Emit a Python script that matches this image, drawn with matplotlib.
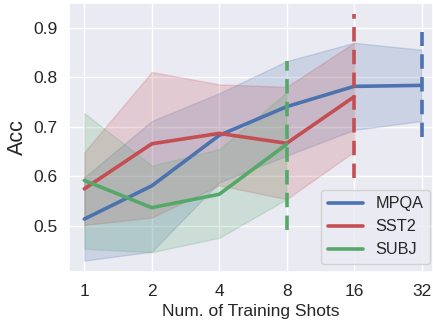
import numpy as np
import matplotlib
matplotlib.use("Agg")
import matplotlib.pyplot as plt
import seaborn as sns

shots = [1, 2, 4, 8, 16, 32]
tick_labels = ["1", "2", "4", "8", "16", "32"]

mpqa_mean = [0.514, 0.581, 0.683, 0.741, 0.782, 0.784]
mpqa_upper = [0.598, 0.712, 0.768, 0.833, 0.870, 0.856]
mpqa_lower = [0.430, 0.448, 0.588, 0.642, 0.694, 0.712]

sst2_mean = [0.575, 0.666, 0.687, 0.667, 0.761]
sst2_upper = [0.649, 0.811, 0.786, 0.781, 0.870]
sst2_lower = [0.502, 0.517, 0.582, 0.554, 0.650]

subj_mean = [0.592, 0.537, 0.564, 0.665]
subj_upper = [0.728, 0.622, 0.655, 0.770]
subj_lower = [0.454, 0.447, 0.476, 0.554]

# vertical dashed markers: (shot, ymin, ymax)
mpqa_vline = (32, 0.679, 0.891)
sst2_vline = (16, 0.596, 0.928)
subj_vline = (8, 0.492, 0.834)

sns.set_theme(style="darkgrid")
plt.rcParams['font.family'] = ['Liberation Sans', 'DejaVu Sans']

pal = sns.color_palette("deep")
blue, red, green = pal[0], pal[3], pal[2]

W, H = 433, 320
fig = plt.figure(figsize=(W/100, H/100), dpi=100)
ax_l, ax_r, ax_t, ax_b = 69, 433, 2.7, 272
ax = fig.add_axes([ax_l/W, 1-ax_b/H, (ax_r-ax_l)/W, (ax_b-ax_t)/H])
ax_w, ax_h = ax_r-ax_l, ax_b-ax_t

series = [
    ("MPQA", mpqa_mean, mpqa_lower, mpqa_upper, blue, mpqa_vline),
    ("SST2", sst2_mean, sst2_lower, sst2_upper, red, sst2_vline),
    ("SUBJ", subj_mean, subj_lower, subj_upper, green, subj_vline),
]
for name, m, lo, up, c, vl in series:
    xs = shots[:len(m)]
    ax.fill_between(xs, lo, up, color=c, alpha=0.2)
for name, m, lo, up, c, vl in series:
    xs = shots[:len(m)]
    ax.plot(xs, m, color=c, lw=2.6, label=name)
for name, m, lo, up, c, vl in series:
    ax.vlines(vl[0], vl[1], vl[2], colors=[c], linestyles=(0, (4, 2.3)), lw=2.6)

ax.set_xscale('log', base=2)
ax.set_xticks(shots)
ax.set_xticklabels(tick_labels)
ax.minorticks_off()
ax.set_xlim(2**-0.227, 2**5.17)
ax.set_ylim(0.407, 0.951)
ax.set_yticks([0.5, 0.6, 0.7, 0.8, 0.9])
ax.tick_params(labelsize=12.5, length=0, pad=8.3)

ax.set_ylabel("Acc", fontsize=15.5, va="center")
ax.yaxis.set_label_coords((17.5-ax_l)/ax_w, 0.5)
ax.set_xlabel("Num. of Training Shots", fontsize=12.5, va="bottom")
ax.xaxis.set_label_coords(0.5, -(H-ax_b-1)/ax_h)

leg = ax.legend(loc="lower right", fontsize=11.7, handlelength=2.15,
                bbox_to_anchor=((430-ax_l)/ax_w, (ax_b-264)/ax_h),
                borderaxespad=0, framealpha=0.8)

fig.savefig("out.png", dpi=100)
